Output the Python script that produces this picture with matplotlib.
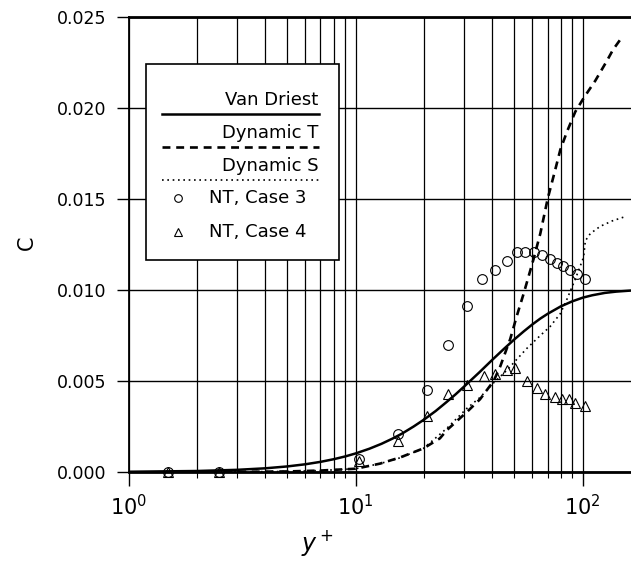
import matplotlib
matplotlib.use("Agg")
import matplotlib.pyplot as plt
from matplotlib.patches import Rectangle
from matplotlib.ticker import NullFormatter, LogLocator

plt.rcParams['font.family'] = ['DejaVu Sans']
plt.rcParams['mathtext.fontset'] = 'dejavusans'

# ---------------- data ----------------
yplus_vd = [1, 2, 3, 4, 5, 6, 7, 8, 9, 10, 11.5, 13, 14.5, 16, 18, 20, 22.5, 25, 27.5, 30,
            35, 40, 45, 50, 55, 60, 65, 70, 80, 90, 100, 110, 125, 140, 163]
c_vd = [0.000014, 0.000055, 0.000119, 0.000203, 0.000306, 0.000424, 0.000557, 0.000702,
        0.000856, 0.00102, 0.00128, 0.00155, 0.00183, 0.00211, 0.00250, 0.00288, 0.00335,
        0.00382, 0.00426, 0.00469, 0.00547, 0.00617, 0.00677, 0.00729, 0.00773, 0.00811,
        0.00843, 0.00869, 0.00910, 0.00938, 0.00958, 0.00971, 0.00984, 0.00991, 0.00997]

yplus_dt = [2, 3, 5, 7, 10, 12.8, 15.7, 19.9, 23.5, 25.2, 30.9, 35.3, 40.5, 43.3, 47.9, 51.3,
            54.9, 60.7, 65.0, 70.0, 75.6, 79.6, 85.2, 92.7, 101.5, 113.5, 127.8, 135.8, 147]
c_dt = [0.0, 0.00001, 0.00003, 0.00008, 0.00018, 0.00046, 0.00080, 0.0013, 0.00185, 0.0023,
        0.0033, 0.0040, 0.0050, 0.0058, 0.0073, 0.0086, 0.0098, 0.0117, 0.0131, 0.0150,
        0.0166, 0.0177, 0.0187, 0.0198, 0.0206, 0.0215, 0.0226, 0.0232, 0.0238]

yplus_ds = [2, 3, 5, 7, 10, 12.8, 15.7, 19.9, 25.2, 30.9, 35.3, 40.5, 46.4, 51.3, 56.8, 65.0,
            71.9, 79.6, 85.2, 92.7, 100.8, 102.6, 107.9, 119.4, 135.0, 151.0]
c_ds = [0.0, 0.00001, 0.00003, 0.00008, 0.00018, 0.00046, 0.00078, 0.0013, 0.0024, 0.0035,
        0.0041, 0.0049, 0.0056, 0.0062, 0.0068, 0.0075, 0.0080, 0.0087, 0.0095, 0.0106,
        0.0118, 0.0127, 0.0131, 0.0135, 0.0138, 0.0140]

yplus_c3 = [1.5, 2.5, 10.3, 15.4, 20.6, 25.6, 31.0, 36.0, 41.1, 46.3, 51.3, 55.7, 60.7, 65.9,
            71.9, 76.7, 82.1, 87.7, 94.2, 102.6]
c_c3 = [0.0, 0.0, 0.0007, 0.0021, 0.0045, 0.0070, 0.0091, 0.0106, 0.0111, 0.0116, 0.0121,
        0.0121, 0.0121, 0.0119, 0.0117, 0.0115, 0.0113, 0.0111, 0.0109, 0.0106]

yplus_c4 = [1.5, 2.5, 10.3, 15.4, 20.6, 25.6, 31.0, 36.6, 41.1, 46.3, 50.5, 56.9, 62.9, 68.3,
            75.5, 81.0, 86.7, 92.7, 102.6]
c_c4 = [0.0, 0.0, 0.0006, 0.0017, 0.0031, 0.0043, 0.0048, 0.0053, 0.0054, 0.0056, 0.0057,
        0.0050, 0.0046, 0.0043, 0.0041, 0.0040, 0.0040, 0.0038, 0.0036]

legend_labels = ["Van Driest", "Dynamic T", "Dynamic S", "NT, Case 3", "NT, Case 4"]
yticks = [0.000, 0.005, 0.010, 0.015, 0.020, 0.025]

# ---------------- figure ----------------
W, H = 631, 563
fig = plt.figure(figsize=(W / 100, H / 100), dpi=100)
ax = fig.add_axes([128.5 / W, 91 / H, 502.5 / W, 455 / H])

ax.set_xscale('log')
ax.set_xlim(1, 163)
ax.set_ylim(0, 0.025)

ax.plot(yplus_vd, c_vd, color='black', lw=1.8, solid_capstyle='butt', zorder=3)
ax.plot(yplus_dt, c_dt, color='black', lw=1.9, linestyle=(0, (3.0, 2.2)), zorder=3)
ax.plot(yplus_ds, c_ds, color='black', lw=1.2, linestyle=(0, (1, 2.2)), zorder=3)
ax.plot(yplus_c3, c_c3, linestyle='none', marker='o', ms=7, mfc='none', mec='black',
        mew=0.8, zorder=4, clip_on=False)
ax.plot(yplus_c4, c_c4, linestyle='none', marker='^', ms=6.5, mfc='none', mec='black',
        mew=0.8, zorder=4, clip_on=False)

# axes / ticks
ax.set_yticks(yticks)
ax.set_yticklabels(["%.3f" % v for v in yticks])
ax.xaxis.set_major_locator(LogLocator(base=10, numticks=10))
ax.xaxis.set_minor_locator(LogLocator(base=10, subs=range(2, 10), numticks=20))
ax.xaxis.set_minor_formatter(NullFormatter())
ax.tick_params(axis='y', which='major', direction='out', length=9, width=1.0,
               labelsize=12.5, pad=7)
ax.tick_params(axis='x', which='major', direction='out', length=10, width=1.0,
               labelsize=15, pad=6)
ax.tick_params(axis='x', which='minor', direction='out', length=4, width=0.8)
ax.tick_params(right=False, top=False, which='both')

ax.grid(True, axis='x', which='both', color='black', lw=0.9, zorder=1)
ax.grid(True, axis='y', which='major', color='black', lw=1.0, zorder=1)
ax.set_axisbelow(True)

ax.spines['right'].set_visible(False)
ax.spines['top'].set_linewidth(2.0)
ax.spines['bottom'].set_linewidth(2.0)
ax.spines['left'].set_linewidth(1.3)

fig.text(27 / W, 1 - 243 / H, 'C', rotation=90, ha='center', va='center', fontsize=15)
fig.text(318 / W, 1 - 543 / H, r'$y^+$', ha='center', va='center', fontsize=17)

# ---------------- legend (manual, text above line samples) ----------------
lx0, lx1, ly0, ly1 = 0.0348, 0.419, 0.466, 0.897
ax.add_patch(Rectangle((lx0, ly0), lx1 - lx0, ly1 - ly0, transform=ax.transAxes,
                       facecolor='white', edgecolor='black', lw=1.2, zorder=6,
                       clip_on=False))
tx_right = 0.378
ls0, ls1 = 0.0667, 0.3796
fs = 13
ax.text(tx_right, 0.818, legend_labels[0], transform=ax.transAxes, ha='right',
        va='center', fontsize=fs, zorder=7)
ax.plot([ls0, ls1], [0.787, 0.787], transform=ax.transAxes, color='black', lw=1.8,
        zorder=7, clip_on=False)
ax.text(tx_right, 0.745, legend_labels[1], transform=ax.transAxes, ha='right',
        va='center', fontsize=fs, zorder=7)
ax.plot([ls0, ls1], [0.714, 0.714], transform=ax.transAxes, color='black', lw=1.9,
        linestyle=(0, (3.0, 2.2)), zorder=7, clip_on=False)
ax.text(tx_right, 0.6725, legend_labels[2], transform=ax.transAxes, ha='right',
        va='center', fontsize=fs, zorder=7)
ax.plot([ls0, ls1], [0.642, 0.642], transform=ax.transAxes, color='black', lw=1.2,
        linestyle=(0, (1, 2.2)), zorder=7, clip_on=False)
ax.plot([0.0985], [0.602], transform=ax.transAxes, marker='o', ms=5.5, mfc='none',
        mec='black', mew=0.8, zorder=7, clip_on=False)
ax.text(0.160, 0.602, legend_labels[3], transform=ax.transAxes, ha='left',
        va='center', fontsize=fs, zorder=7)
ax.plot([0.0985], [0.527], transform=ax.transAxes, marker='^', ms=5.5, mfc='none',
        mec='black', mew=0.8, zorder=7, clip_on=False)
ax.text(0.160, 0.527, legend_labels[4], transform=ax.transAxes, ha='left',
        va='center', fontsize=fs, zorder=7)

fig.savefig('out.png', dpi=100)
